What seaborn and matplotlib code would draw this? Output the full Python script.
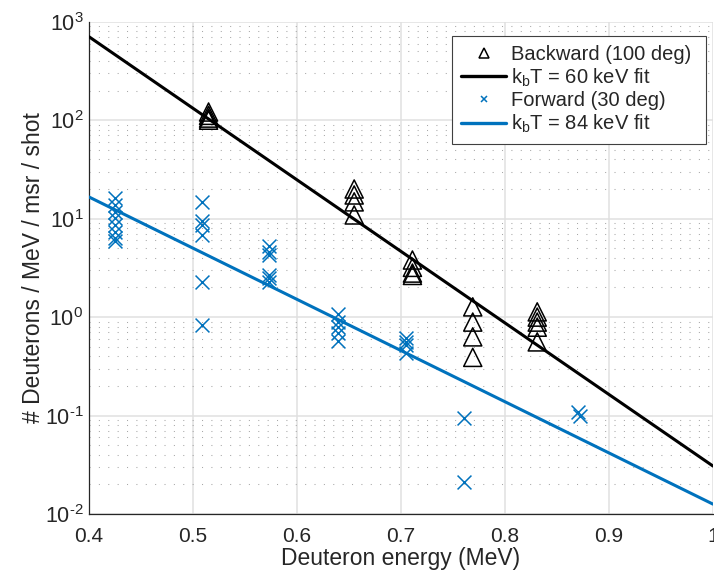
import numpy as np
import pandas as pd
import matplotlib
matplotlib.use('Agg')
import matplotlib.pyplot as plt
from matplotlib.lines import Line2D
from matplotlib.ticker import LogLocator, NullFormatter, FixedLocator, FuncFormatter
import seaborn as sns

# backward (100 deg) measured points
back_E = [0.515, 0.515, 0.515, 0.515,
          0.655, 0.655, 0.655, 0.655,
          0.711, 0.711, 0.711, 0.711,
          0.769, 0.769, 0.769, 0.769,
          0.831, 0.831, 0.831, 0.831, 0.831]
back_y = [121, 112, 105, 100,
          20, 17.4, 14.8, 10.9,
          3.8, 3.2, 2.8, 2.65,
          1.27, 0.89, 0.63, 0.39,
          1.13, 1.0, 0.89, 0.79, 0.56]

# forward (30 deg) measured points
fwd_E = [0.425] * 8 + [0.509] * 6 + [0.573] * 6 + [0.639] * 5 + [0.705] * 4 + [0.761] * 2 + [0.870, 0.872]
fwd_y = [16.2, 13.8, 11.7, 10.2, 8.6, 7.3, 6.4, 5.9,
         14.8, 9.5, 8.6, 6.8, 2.28, 0.84,
         5.3, 4.6, 4.3, 2.68, 2.5, 2.28,
         1.08, 0.89, 0.8, 0.69, 0.57,
         0.61, 0.56, 0.52, 0.43,
         0.095, 0.021,
         0.109, 0.099]

# exponential fits (straight on log axis) - endpoints
fit_E = [0.4, 1.0]
fit60_y = [704, 0.0307]
fit84_y = [16.6, 0.0126]

xticks = [0.4, 0.5, 0.6, 0.7, 0.8, 0.9, 1.0]
xticklabels = ['0.4', '0.5', '0.6', '0.7', '0.8', '0.9', '1']
labels = ['Backward (100 deg) ', 'k$_\\mathregular{b}$T = 60 keV fit ',
          'Forward (30 deg) ', 'k$_\\mathregular{b}$T = 84 keV fit ']

blue = '#0072BD'
ink = '#262626'

sns.set_style('white')
plt.rcParams['font.family'] = ['Liberation Sans', 'DejaVu Sans']
plt.rcParams['mathtext.fontset'] = 'custom'
plt.rcParams['mathtext.rm'] = 'Liberation Sans'
plt.rcParams['mathtext.it'] = 'Liberation Sans:italic'
plt.rcParams['axes.unicode_minus'] = False


def decade_label(v, pos):
    n = int(round(np.log10(v)))
    if n < 0:
        return '$\\mathregular{10^{\\text{-}%d}}$' % (-n)
    return '$\\mathregular{10^{%d}}$' % n


df_back = pd.DataFrame({'E': back_E, 'y': back_y})
df_fwd = pd.DataFrame({'E': fwd_E, 'y': fwd_y})
df_f60 = pd.DataFrame({'E': fit_E, 'y': fit60_y})
df_f84 = pd.DataFrame({'E': fit_E, 'y': fit84_y})

fig = plt.figure(figsize=(7.14, 5.76), dpi=100)
ax = fig.add_axes([0.1246, 0.1076, 0.874, 0.8547])

ax.set_yscale('log')
sns.scatterplot(data=df_back, x='E', y='y', ax=ax, marker='^', s=170,
                facecolor='none', edgecolor='black', linewidth=1.1, zorder=3)
sns.lineplot(data=df_f60, x='E', y='y', ax=ax, color='black', linewidth=2.2, zorder=4)
sns.scatterplot(data=df_fwd, x='E', y='y', ax=ax, marker='x', s=100,
                color=blue, linewidth=1.1, zorder=3)
sns.lineplot(data=df_f84, x='E', y='y', ax=ax, color=blue, linewidth=2.2, zorder=4)

ax.set_xlim(0.4, 1.0)
ax.set_ylim(1e-2, 1e3)
ax.xaxis.set_major_locator(FixedLocator(xticks))
ax.set_xticklabels(xticklabels)
ax.yaxis.set_major_locator(LogLocator(base=10, numticks=10))
ax.yaxis.set_major_formatter(FuncFormatter(decade_label))
ax.yaxis.set_minor_locator(LogLocator(base=10, subs=np.arange(2, 10), numticks=20))
ax.yaxis.set_minor_formatter(NullFormatter())

ax.grid(True, which='major', axis='both', color='#e0e0e0', linewidth=1.1, linestyle='-')
ax.grid(True, which='minor', axis='y', color='#a8a8a8', linewidth=0.75, linestyle=(0, (1, 8)))
ax.set_axisbelow(True)

for s in ['top', 'right']:
    ax.spines[s].set_visible(False)
for s in ['left', 'bottom']:
    ax.spines[s].set_color(ink)
    ax.spines[s].set_linewidth(0.9)

ax.tick_params(axis='y', which='major', direction='in', length=5, width=0.8,
               labelsize=15.5, colors=ink, pad=4)
ax.tick_params(axis='y', which='minor', direction='in', length=3, width=0.6, colors=ink)
ax.tick_params(axis='x', which='major', length=0, labelsize=15, colors=ink, pad=9)

ax.set_xlabel('Deuteron energy (MeV)', fontsize=16.5, color=ink, labelpad=1)
ax.set_ylabel('# Deuterons / MeV / msr / shot', fontsize=16.5, color=ink, labelpad=0)

handles = [Line2D([], [], marker='^', linestyle='none', markersize=7.5, markerfacecolor='none',
                  markeredgecolor='black', markeredgewidth=1.1),
           Line2D([], [], color='black', linewidth=2.4),
           Line2D([], [], marker='x', linestyle='none', markersize=5, color=blue,
                  markeredgewidth=1.1),
           Line2D([], [], color=blue, linewidth=2.4)]
leg = ax.legend(handles, labels, loc='upper right', bbox_to_anchor=(0.989, 0.971),
                fontsize=14.5, frameon=True, fancybox=False, framealpha=1,
                edgecolor='#404040', handlelength=2.25, handletextpad=0.25,
                labelspacing=0.12, borderpad=0.45, borderaxespad=0)
leg.get_frame().set_linewidth(0.8)

fig.savefig('out.png', dpi=100)
